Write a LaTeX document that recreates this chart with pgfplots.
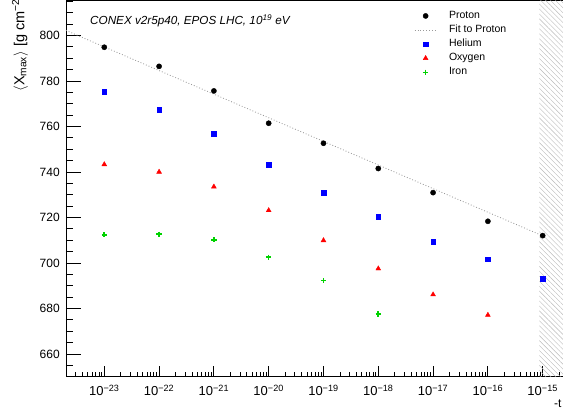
\documentclass[border=0pt]{standalone}
\usepackage{pgfplots}
\pgfplotsset{compat=1.18}
\usepackage{fontspec}
\setmainfont{Liberation Sans}
\usetikzlibrary{patterns.meta}
\definecolor{rgreen}{RGB}{0,210,0}
\definecolor{rblue}{RGB}{0,0,255}
\definecolor{rred}{RGB}{255,0,0}
\begin{document}
\begin{tikzpicture}[x=1pt,y=1pt]
\useasboundingbox (0,0) rectangle (563,415);
\clip (0,0) rectangle (563,415);
\begin{axis}[
  at={(66pt,38.3pt)}, anchor=south west,
  scale only axis, width=531.5pt, height=376.1pt,
  xmode=log, log basis x=10,
  xmin=2e-24, xmax=1e-14,
  ymin=650, ymax=815.3,
  axis line style={line width=0.8pt},
  tick align=inside, tick pos=left,
  every tick/.style={black, line width=0.8pt},
  xtick style={/pgfplots/major tick length=10.5pt, /pgfplots/minor tick length=5pt},
  ytick style={/pgfplots/major tick length=15pt, /pgfplots/minor tick length=7.5pt},
  xtick={1e-23,1e-22,1e-21,1e-20,1e-19,1e-18,1e-17,1e-16,1e-15},
  xticklabels={10\textsuperscript{−23},10\textsuperscript{−22},10\textsuperscript{−21},10\textsuperscript{−20},10\textsuperscript{−19},10\textsuperscript{−18},10\textsuperscript{−17},10\textsuperscript{−16},10\textsuperscript{−15}},
  minor xtick={3e-24,4e-24,5e-24,6e-24,7e-24,8e-24,9e-24,
    2e-23,3e-23,4e-23,5e-23,6e-23,7e-23,8e-23,9e-23,
    2e-22,3e-22,4e-22,5e-22,6e-22,7e-22,8e-22,9e-22,
    2e-21,3e-21,4e-21,5e-21,6e-21,7e-21,8e-21,9e-21,
    2e-20,3e-20,4e-20,5e-20,6e-20,7e-20,8e-20,9e-20,
    2e-19,3e-19,4e-19,5e-19,6e-19,7e-19,8e-19,9e-19,
    2e-18,3e-18,4e-18,5e-18,6e-18,7e-18,8e-18,9e-18,
    2e-17,3e-17,4e-17,5e-17,6e-17,7e-17,8e-17,9e-17,
    2e-16,3e-16,4e-16,5e-16,6e-16,7e-16,8e-16,9e-16,
    2e-15,3e-15,4e-15,5e-15,6e-15,7e-15,8e-15,9e-15},
  ytick={660,680,700,720,740,760,780,800},
  minor ytick={655,665,670,675,685,690,695,705,710,715,725,730,735,745,750,755,765,770,775,785,790,795,805,810,815},
  /pgf/number format/assume math mode=true,
  yticklabel style={font=\fontsize{12}{14}\selectfont, xshift=-2.7pt},
  xticklabel style={font=\fontsize{13}{15}\selectfont, anchor=base, yshift=-19.3pt},
  legend style={at={(axis description cs:0.6492,0.979)}, anchor=north west,
    draw=none, fill=none, font=\fontsize{10.5}{12}\selectfont,
    nodes={inner sep=0pt, text height=7.6pt, text depth=2.9pt},
    row sep=3.6pt, column sep=12pt},
  legend cell align=left,
  legend image code/.code={\path[draw=none,fill=none] (0pt,-3pt) rectangle (22pt,3pt); \draw[mark repeat=2,mark phase=2,#1] plot coordinates {(0pt,0pt) (11pt,0pt) (22pt,0pt)};},
]
\addplot[draw=none, forget plot, pattern={Lines[angle=-45, distance=3.5pt, line width=0.4pt]}, pattern color=gray!55]
  coordinates {(8.7e-16,650) (1e-14,650) (1e-14,815.3) (8.7e-16,815.3)} -- cycle;
\addplot[only marks, mark=*, mark size=2.6pt, black] coordinates {
 (1e-23,794.8) (1e-22,786.4) (1e-21,775.6) (1e-20,761.4) (1e-19,752.6)
 (1e-18,741.5) (1e-17,730.9) (1e-16,718.3) (1e-15,712.0)};
\addlegendentry{Proton}
\addplot[gray!80, line width=0.8pt, dash pattern=on 0.9pt off 2pt] coordinates {
 (2e-24,802.2) (1e-15,711.9)};
\addlegendentry{Fit to Proton}
\addplot[only marks, mark=square*, mark size=2.3pt, rblue] coordinates {
 (1e-23,775.2) (1e-22,767.3) (1e-21,756.8) (1e-20,743.2) (1e-19,730.9)
 (1e-18,720.4) (1e-17,709.4) (1e-16,701.6) (1e-15,693.0)};
\addlegendentry{Helium}
\addplot[only marks, mark=triangle*, mark size=2.8pt, rred] coordinates {
 (1e-23,743.3) (1e-22,740.0) (1e-21,733.5) (1e-20,723.1) (1e-19,709.9)
 (1e-18,697.5) (1e-17,686.1) (1e-16,677.1)};
\addlegendentry{Oxygen}
\addplot[only marks, mark=+, mark size=2.7pt, line width=1.6pt, rgreen, mark options={solid}] coordinates {
 (1e-23,712.4) (1e-22,712.6) (1e-21,710.2) (1e-20,702.5) (1e-19,692.2)
 (1e-18,677.6)};
\addlegendentry{Iron}
\end{axis}
\node[anchor=base west, font=\fontsize{11.7}{13}\selectfont\itshape, inner sep=0pt] at (90,390) {CONEX v2r5p40, EPOS LHC, 10\textsuperscript{19} eV};
\node[rotate=90, anchor=base west, font=\fontsize{14.5}{16}\selectfont, inner sep=0pt] at (24.3,323.3) {$\langle$X\textsubscript{max}$\rangle$ [g cm\textsuperscript{−2}]};
\node[anchor=base west, font=\fontsize{12}{14}\selectfont, inner sep=0pt] at (554,7.5) {-t};
\end{tikzpicture}
\end{document}
